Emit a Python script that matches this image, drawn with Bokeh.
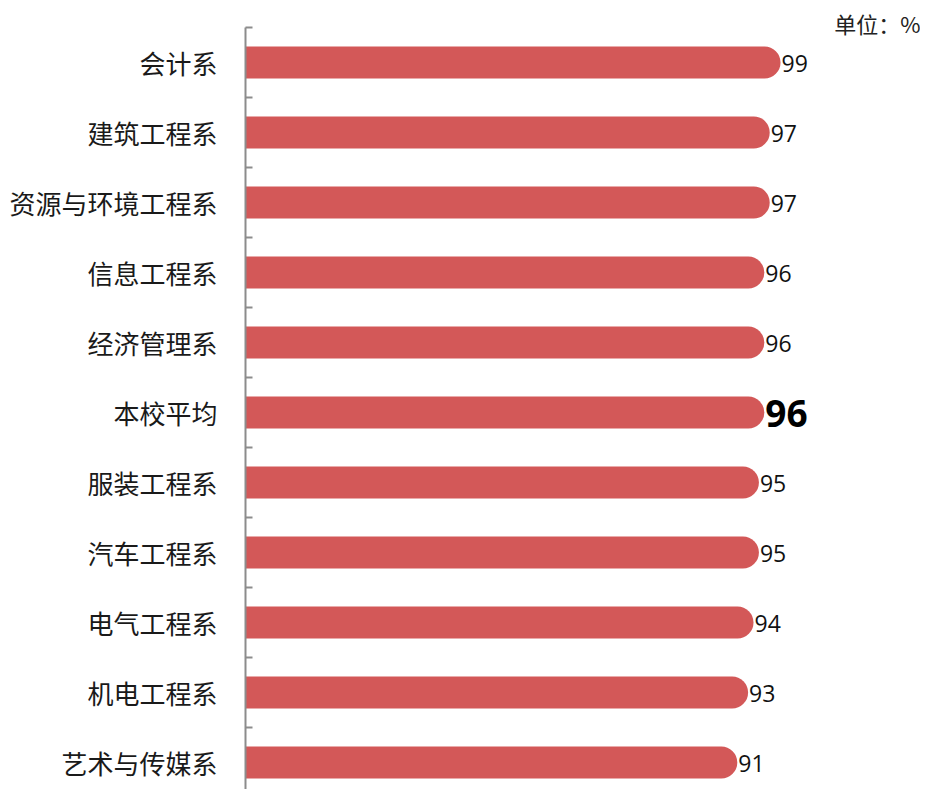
from bokeh.plotting import figure
from bokeh.models import Range1d, FixedTicker, Label, ColumnDataSource
from bokeh.core.properties import value
from bokeh.embed import file_html
from bokeh.resources import INLINE

# ---- data (top to bottom) ----
categories = ["会计系", "建筑工程系", "资源与环境工程系", "信息工程系", "经济管理系",
              "本校平均", "服装工程系", "汽车工程系", "电气工程系", "机电工程系", "艺术与传媒系"]
values = [99, 97, 97, 96, 96, 96, 95, 95, 94, 93, 91]
highlight = "本校平均"
unit_text = "单位：%"

idx = list(range(len(categories)))
BAR_COLOR = "#D35858"
AXIS_COLOR = "#8C8C8C"
X_MAX = 124.9

p = figure(width=920, height=789, output_backend="svg", toolbar_location=None,
           x_range=Range1d(0, X_MAX), y_range=Range1d(10.386, -0.8857),
           x_axis_location=None, min_border_left=245, min_border_right=0,
           min_border_top=0, min_border_bottom=0)
p.outline_line_color = None
p.xgrid.visible = False
p.ygrid.visible = False
p.background_fill_color = "white"
p.border_fill_color = "white"

src = ColumnDataSource(dict(y=idx, right=values, label=[str(v) for v in values],
                            cat=categories))
p.hbar(y="y", left=0, right="right", height=0.457, source=src,
       fill_color=BAR_COLOR, line_color=None, border_radius=(0, 16, 16, 0))

normal = [i for i, c in enumerate(categories) if c != highlight]
bold = [i for i, c in enumerate(categories) if c == highlight]

p.text(x=[values[i] for i in normal], y=normal, text=[str(values[i]) for i in normal],
       text_font=value("Open Sans"), text_font_size="23px", text_color="#111111",
       text_align="left", text_baseline="middle", x_offset=1, y_offset=1)
p.text(x=[values[i] for i in bold], y=bold, text=[str(values[i]) for i in bold],
       text_font=value("Open Sans"), text_font_size="37px", text_font_style="bold",
       text_color="#000000", text_align="left", text_baseline="middle", x_offset=1, y_offset=1)

ax = p.yaxis[0]
ax.ticker = FixedTicker(ticks=idx, minor_ticks=[i - 0.5 for i in range(len(categories) + 1)])
ax.major_label_overrides = {i: c for i, c in enumerate(categories)}
ax.bounds = (-0.5, len(categories) - 0.5)
ax.axis_line_color = AXIS_COLOR
ax.axis_line_width = 2
ax.major_tick_in = 0
ax.major_tick_out = 0
ax.minor_tick_in = 7
ax.minor_tick_out = 0
ax.minor_tick_line_color = AXIS_COLOR
ax.minor_tick_line_width = 2
ax.major_label_standoff = 28
ax.major_label_text_font = "Noto Sans CJK SC"
ax.major_label_text_font_size = "26px"
ax.major_label_text_color = "#1a1a1a"

p.add_layout(Label(x=X_MAX, y=-0.56, text=unit_text, text_align="right",
                   text_baseline="middle", text_font="Noto Sans CJK SC",
                   text_font_size="22px", text_color="#222222"))

open("out.html", "w").write(file_html(p, INLINE))
